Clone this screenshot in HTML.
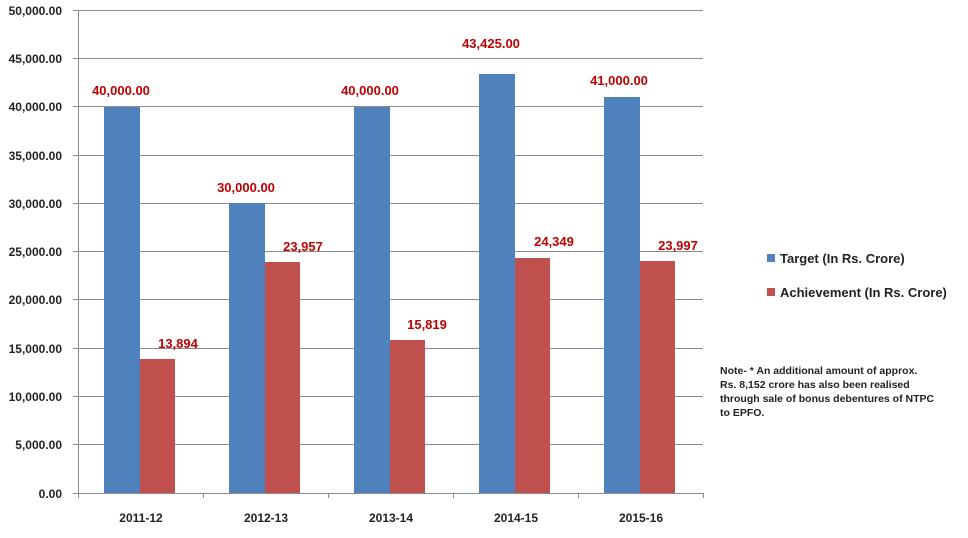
<!DOCTYPE html>
<html><head><meta charset="utf-8"><style>
body{margin:0;background:#fff;}
svg{display:block;font-family:"Liberation Sans",Calibri,sans-serif;font-weight:bold;}
</style></head><body>
<svg width="968" height="538" viewBox="0 0 968 538">
<g stroke="#8c8c8c" stroke-width="1">
<line x1="73" y1="10.5" x2="703" y2="10.5"/>
<line x1="73" y1="58.5" x2="703" y2="58.5"/>
<line x1="73" y1="106.5" x2="703" y2="106.5"/>
<line x1="73" y1="155.5" x2="703" y2="155.5"/>
<line x1="73" y1="203.5" x2="703" y2="203.5"/>
<line x1="73" y1="251.5" x2="703" y2="251.5"/>
<line x1="73" y1="299.5" x2="703" y2="299.5"/>
<line x1="73" y1="348.5" x2="703" y2="348.5"/>
<line x1="73" y1="396.5" x2="703" y2="396.5"/>
<line x1="73" y1="444.5" x2="703" y2="444.5"/>
<line x1="73" y1="493.5" x2="703" y2="493.5"/>
<line x1="78.5" y1="10" x2="78.5" y2="498"/>
<line x1="203.5" y1="493" x2="203.5" y2="498"/>
<line x1="328.5" y1="493" x2="328.5" y2="498"/>
<line x1="453.5" y1="493" x2="453.5" y2="498"/>
<line x1="578.5" y1="493" x2="578.5" y2="498"/>
<line x1="703.5" y1="493" x2="703.5" y2="498"/>
</g>
<g font-size="12" fill="#222" text-anchor="end">
<text x="62" y="15">50,000.00</text>
<text x="62" y="63">45,000.00</text>
<text x="62" y="111">40,000.00</text>
<text x="62" y="160">35,000.00</text>
<text x="62" y="208">30,000.00</text>
<text x="62" y="256">25,000.00</text>
<text x="62" y="304">20,000.00</text>
<text x="62" y="353">15,000.00</text>
<text x="62" y="401">10,000.00</text>
<text x="62" y="449">5,000.00</text>
<text x="62" y="498">0.00</text>
</g>
<g fill="#4f81bd">
<rect x="104" y="107" width="36" height="386"/>
<rect x="229" y="203" width="36" height="290"/>
<rect x="354" y="107" width="36" height="386"/>
<rect x="479" y="74" width="36" height="419"/>
<rect x="604" y="97" width="36" height="396"/>
</g>
<g fill="#c0504d">
<rect x="140" y="359" width="35" height="134"/>
<rect x="265" y="262" width="35" height="231"/>
<rect x="390" y="340" width="35" height="153"/>
<rect x="515" y="258" width="35" height="235"/>
<rect x="640" y="261" width="35" height="232"/>
</g>
<g font-size="13" fill="#c00000" text-anchor="middle">
<text x="121" y="95">40,000.00</text>
<text x="246" y="192">30,000.00</text>
<text x="370" y="95">40,000.00</text>
<text x="491" y="48">43,425.00</text>
<text x="619" y="85">41,000.00</text>
<text x="178" y="348">13,894</text>
<text x="303" y="251">23,957</text>
<text x="427" y="329">15,819</text>
<text x="554" y="246">24,349</text>
<text x="678" y="250">23,997</text>
</g>
<g font-size="12" fill="#222" text-anchor="middle">
<text x="141" y="522">2011-12</text>
<text x="266" y="522">2012-13</text>
<text x="391" y="522">2013-14</text>
<text x="516" y="522">2014-15</text>
<text x="641" y="522">2015-16</text>
</g>
<rect x="767" y="254" width="8" height="8" fill="#4f81bd"/>
<rect x="767" y="288" width="8" height="8" fill="#c0504d"/>
<g font-size="13" fill="#222">
<text x="780" y="263">Target  (In Rs. Crore)</text>
<text x="780" y="297">Achievement (In Rs. Crore)</text>
</g>
<g font-size="10.5" fill="#222">
<text x="720" y="374">Note- * An additional amount of approx.</text>
<text x="720" y="388">Rs. 8,152 crore has also been realised</text>
<text x="720" y="402">through sale of bonus debentures of NTPC</text>
<text x="720" y="416">to EPFO.</text>
</g>
</svg>
</body></html>
